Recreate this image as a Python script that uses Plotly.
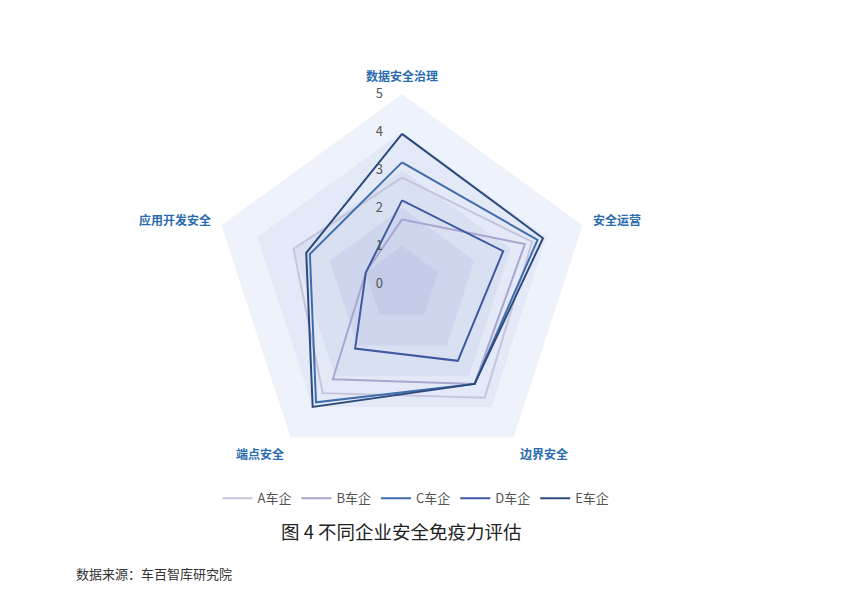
import plotly.graph_objects as go

# axes (clockwise from top)
categories = ['数据安全治理', '安全运营', '边界安全', '端点安全', '应用开发安全']

# scores
a_vals = [2.8, 3.6, 3.7, 3.55, 3.0]
b_vals = [1.7, 3.4, 3.25, 3.1, 1.0]
c_vals = [3.2, 3.75, 3.25, 3.85, 2.55]
d_vals = [2.2, 2.8, 2.5, 2.1, 1.0]
e_vals = [3.95, 3.9, 3.25, 4.0, 2.65]

series_names = ['A车企', 'B车企', 'C车企', 'D车企', 'E车企']
series_vals = [a_vals, b_vals, c_vals, d_vals, e_vals]
series_colors = ['#c6c4dd', '#a9a6d0', '#3f6cab', '#3d5aa0', '#2d4a7c']

levels = [5, 4, 3, 2, 1]
band_colors = ['#eef2fa', '#e4e9f7', '#d9e0f2', '#ced6ed', '#c4cce7']

fig = go.Figure()

# background bands, outer first
theta_closed = categories + [categories[0]]
for lvl, col in zip(levels, band_colors):
    fig.add_trace(go.Scatterpolar(
        r=[lvl] * len(theta_closed), theta=theta_closed,
        mode='lines', fill='toself', fillcolor=col,
        line=dict(width=0, color=col), hoverinfo='skip', showlegend=False))

for name, vals, col in zip(series_names, series_vals, series_colors):
    fig.add_trace(go.Scatterpolar(
        r=vals + [vals[0]], theta=theta_closed, name=name,
        mode='lines', line=dict(color=col, width=2)))

fig.update_layout(
    width=850, height=609,
    margin=dict(l=0, r=0, t=0, b=0),
    paper_bgcolor='white',
    font=dict(family='Noto Sans CJK SC', color='#444'),
    polar=dict(
        domain=dict(x=[0.2400, 0.6871], y=[0.2348, 0.8588]),
        gridshape='linear',
        bgcolor='rgba(0,0,0,0)',
        angularaxis=dict(
            rotation=90, direction='clockwise',
            showgrid=False, showline=False,
            ticks='outside', ticklen=8, tickcolor='rgba(0,0,0,0)',
            tickfont=dict(size=12, color='#2b6cb0', family='Noto Sans CJK SC',
                          weight='bold'),
        ),
        radialaxis=dict(
            range=[0, 5], dtick=1, angle=90, tickangle=90,
            side='counterclockwise',
            showgrid=False, showline=False,
            ticks='outside', ticklen=14, tickcolor='rgba(0,0,0,0)',
            tickfont=dict(size=13, color='#555'),
        ),
    ),
    legend=dict(
        orientation='h', x=0.48, xanchor='center', y=0.195, yanchor='middle',
        font=dict(size=13, color='#555'), itemwidth=30,
    ),
    annotations=[
        dict(text='图 4 不同企业安全免疫力评估', x=0.4625, y=0.116,
             xref='paper', yref='paper', showarrow=False,
             font=dict(size=18.5, color='#222')),
        dict(text='数据来源：车百智库研究院', x=0.078, y=0.052,
             xref='paper', yref='paper', xanchor='left', showarrow=False,
             font=dict(size=13, color='#333')),
    ],
)

fig.write_html('out.html')
